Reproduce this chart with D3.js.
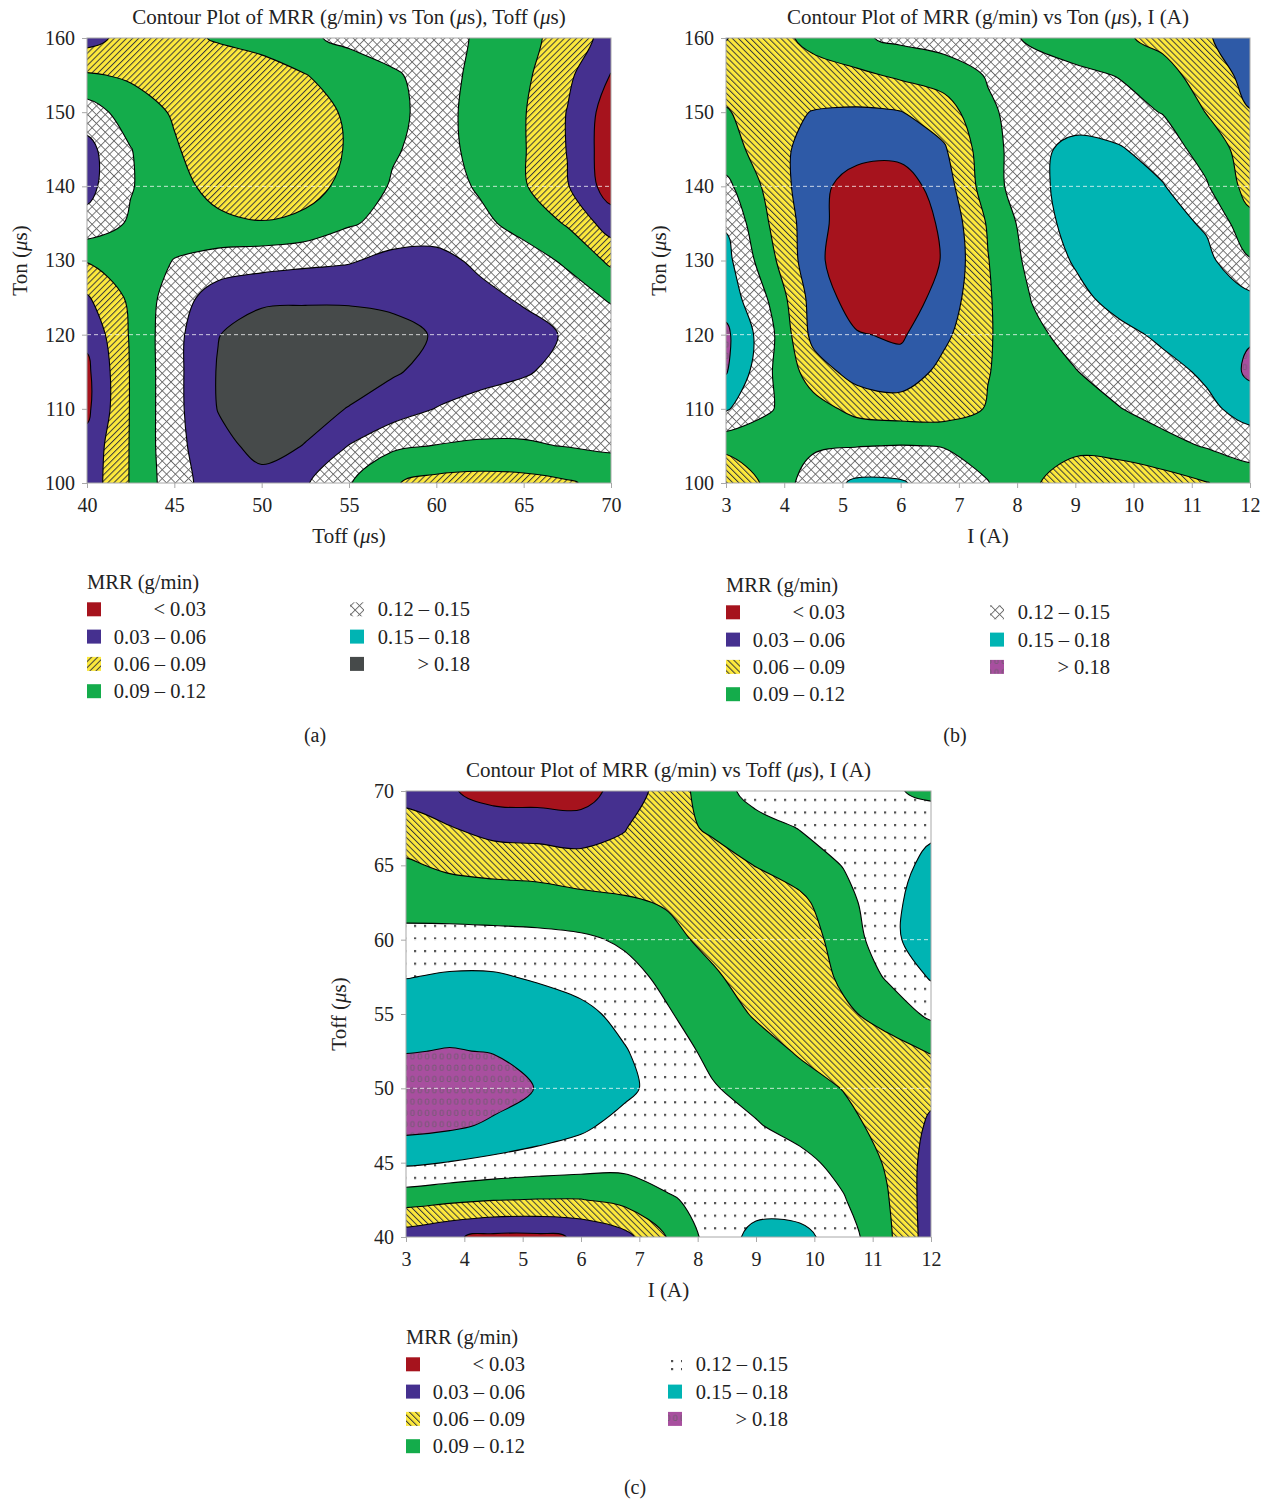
<!DOCTYPE html>
<html>
<head>
<meta charset="utf-8">
<script src="https://cdn.jsdelivr.net/npm/d3@7"></script>
<style>
  body { margin: 0; background: #fff; }
</style>
</head>
<body>
<div id="root"></div>
<script>
// contour levels (g/min) and legend texts
var thresholds = [0.03, 0.06, 0.09, 0.12, 0.15, 0.18];
var legendLabels = ["< 0.03", "0.03 \u2013 0.06", "0.06 \u2013 0.09", "0.09 \u2013 0.12",
                    "0.12 \u2013 0.15", "0.15 \u2013 0.18", "> 0.18"];

// axis ticks
var toffTicks = [40, 45, 50, 55, 60, 65, 70];
var tonTicks = [100, 110, 120, 130, 140, 150, 160];
var currentTicks = [3, 4, 5, 6, 7, 8, 9, 10, 11, 12];

var toffGrid = [40, 42.5, 45, 47.5, 50, 52.5, 55, 57.5, 60, 62.5, 65, 67.5, 70];
var tonGrid = [160, 155, 150, 145, 140, 135, 130, 125, 120, 115, 110, 105, 100];
var currentGrid = [3, 3.75, 4.5, 5.25, 6, 6.75, 7.5, 8.25, 9, 9.75, 10.5, 11.25, 12];
var toffGridDown = [70, 67.5, 65, 62.5, 60, 57.5, 55, 52.5, 50, 47.5, 45, 42.5, 40];

// (a) MRR, rows Ton 160 -> 100, columns Toff 40 -> 70
var mrrA = [
  [0.048,0.072,0.081,0.093,0.105,0.116,0.126,0.132,0.129,0.117,0.099,0.078,0.048],
  [0.093,0.086,0.075,0.071,0.072,0.089,0.105,0.117,0.129,0.114,0.096,0.066,0.029],
  [0.135,0.105,0.087,0.072,0.066,0.075,0.095,0.114,0.129,0.111,0.092,0.059,0.015],
  [0.159,0.121,0.093,0.072,0.063,0.072,0.093,0.117,0.131,0.111,0.092,0.059,0.012],
  [0.159,0.122,0.099,0.081,0.066,0.078,0.099,0.123,0.132,0.117,0.093,0.062,0.015],
  [0.141,0.116,0.105,0.096,0.092,0.098,0.117,0.129,0.134,0.126,0.111,0.087,0.045],
  [0.092,0.102,0.121,0.132,0.138,0.143,0.147,0.159,0.159,0.144,0.131,0.116,0.084],
  [0.057,0.096,0.135,0.165,0.174,0.176,0.176,0.171,0.165,0.158,0.146,0.132,0.117],
  [0.036,0.093,0.141,0.179,0.195,0.195,0.194,0.192,0.177,0.168,0.161,0.147,0.135],
  [0.024,0.092,0.141,0.182,0.198,0.198,0.192,0.183,0.171,0.162,0.153,0.141,0.135],
  [0.024,0.092,0.141,0.181,0.195,0.189,0.179,0.165,0.149,0.138,0.134,0.132,0.132],
  [0.039,0.092,0.141,0.171,0.189,0.179,0.149,0.125,0.119,0.116,0.117,0.121,0.125],
  [0.042,0.092,0.138,0.165,0.171,0.153,0.122,0.092,0.081,0.078,0.080,0.087,0.099]
];

// (b) MRR, rows Ton 160 -> 100, columns I 3 -> 12
var mrrB = [
  [0.059,0.078,0.099,0.116,0.126,0.132,0.129,0.117,0.108,0.095,0.081,0.063,0.042],
  [0.072,0.075,0.078,0.084,0.095,0.105,0.122,0.129,0.125,0.119,0.102,0.075,0.051],
  [0.093,0.069,0.059,0.056,0.059,0.075,0.116,0.132,0.135,0.129,0.119,0.089,0.061],
  [0.102,0.075,0.045,0.039,0.039,0.057,0.108,0.141,0.159,0.153,0.135,0.108,0.075],
  [0.128,0.081,0.039,0.018,0.015,0.045,0.107,0.141,0.162,0.162,0.152,0.123,0.078],
  [0.147,0.089,0.042,0.009,0.006,0.036,0.093,0.135,0.161,0.167,0.162,0.146,0.099],
  [0.159,0.099,0.039,0.006,0.003,0.033,0.089,0.129,0.153,0.168,0.168,0.158,0.122],
  [0.168,0.117,0.048,0.015,0.012,0.042,0.087,0.121,0.141,0.162,0.174,0.174,0.156],
  [0.186,0.129,0.051,0.032,0.026,0.054,0.087,0.114,0.129,0.141,0.156,0.168,0.177],
  [0.182,0.123,0.075,0.048,0.042,0.069,0.089,0.105,0.119,0.132,0.140,0.155,0.186],
  [0.153,0.122,0.102,0.081,0.075,0.075,0.092,0.105,0.113,0.119,0.131,0.143,0.162],
  [0.099,0.105,0.116,0.119,0.121,0.119,0.108,0.099,0.095,0.099,0.111,0.122,0.135],
  [0.059,0.099,0.135,0.155,0.153,0.135,0.121,0.093,0.078,0.075,0.078,0.089,0.102]
];

// (c) MRR, rows Toff 70 -> 40, columns I 3 -> 12
var mrrC = [
  [0.045,0.033,0.018,0.018,0.018,0.042,0.075,0.105,0.132,0.138,0.135,0.126,0.111],
  [0.078,0.062,0.048,0.045,0.042,0.059,0.078,0.095,0.108,0.121,0.132,0.138,0.144],
  [0.093,0.086,0.083,0.081,0.075,0.069,0.066,0.075,0.091,0.105,0.121,0.135,0.159],
  [0.105,0.104,0.102,0.101,0.098,0.095,0.087,0.072,0.069,0.083,0.111,0.138,0.171],
  [0.132,0.132,0.131,0.129,0.125,0.116,0.099,0.081,0.066,0.075,0.102,0.138,0.174],
  [0.149,0.153,0.153,0.147,0.138,0.129,0.113,0.095,0.075,0.069,0.096,0.123,0.153],
  [0.168,0.171,0.170,0.165,0.158,0.141,0.122,0.105,0.087,0.072,0.084,0.102,0.126],
  [0.179,0.181,0.179,0.171,0.164,0.152,0.131,0.114,0.102,0.087,0.072,0.078,0.092],
  [0.195,0.195,0.191,0.179,0.168,0.156,0.138,0.122,0.111,0.102,0.089,0.072,0.066],
  [0.189,0.185,0.176,0.165,0.155,0.141,0.132,0.128,0.122,0.110,0.099,0.080,0.056],
  [0.155,0.149,0.143,0.138,0.134,0.129,0.134,0.137,0.134,0.128,0.111,0.087,0.048],
  [0.102,0.096,0.091,0.089,0.089,0.099,0.117,0.129,0.138,0.135,0.122,0.092,0.045],
  [0.045,0.033,0.024,0.024,0.033,0.051,0.092,0.132,0.159,0.159,0.135,0.096,0.045]
];

// white dashed reference lines seen inside the plots
var gridLinesA = [120, 140];
var gridLinesB = [120, 140];
var gridLinesC = [50, 60];

window.onload = function () {
  var RED = "#a6131d", PURPLE = "#45308f", BLUE = "#2e5aa7", YELLOW = "#fde93c",
      GREEN = "#14ac4b", CYAN = "#00b4b3", DARK = "#464a4a", MAGENTA = "#a84f9f";
  var FONT = "'Liberation Serif', 'DejaVu Serif', serif";

  var svg = d3.select("#root")
    .append("svg")
    .attr("width", 1271)
    .attr("height", 1499)
    .style("font-family", FONT);

  var defs = svg.append("defs");

  // single hatch: rotate 45 = "/", -45 = "\"
  function hatch(id, angle) {
    var p = defs.append("pattern").attr("id", id)
      .attr("patternUnits", "userSpaceOnUse")
      .attr("width", 4.3).attr("height", 4.3)
      .attr("patternTransform", "rotate(" + angle + ")");
    p.append("rect").attr("width", 4.3).attr("height", 4.3).attr("fill", YELLOW);
    p.append("line").attr("x1", 0.5).attr("y1", 0).attr("x2", 0.5).attr("y2", 4.3)
      .attr("stroke", "#3a3a3a").attr("stroke-width", 1);
  }
  hatch("hatchFwd", 45);
  hatch("hatchBack", -45);

  var cross = defs.append("pattern").attr("id", "cross")
    .attr("patternUnits", "userSpaceOnUse")
    .attr("width", 6.2).attr("height", 6.2)
    .attr("patternTransform", "rotate(45)");
  cross.append("rect").attr("width", 6.2).attr("height", 6.2).attr("fill", "#fff");
  cross.append("path").attr("d", "M0,0.5H6.2M0.5,0V6.2")
    .attr("stroke", "#6a6a6a").attr("stroke-width", 0.9);

  function dotPattern(id, w, h, ox, oy) {
    var p = defs.append("pattern").attr("id", id)
      .attr("patternUnits", "userSpaceOnUse")
      .attr("x", ox).attr("y", oy)
      .attr("width", w).attr("height", h);
    p.append("rect").attr("width", w).attr("height", h).attr("fill", "#fff");
    p.append("rect").attr("x", 1).attr("y", 1).attr("width", 2.2).attr("height", 2.2).attr("fill", "#505050");
  }
  dotPattern("dots", 10, 12.6, 3, 4);
  // legend swatch of panel (c) shows a 2 x 2 block of dots
  dotPattern("dotsLegend", 10, 8, 670, 1359);

  var mag = defs.append("pattern").attr("id", "magenta")
    .attr("patternUnits", "userSpaceOnUse")
    .attr("width", 7.3).attr("height", 11.3);
  mag.append("rect").attr("width", 7.3).attr("height", 11.3).attr("fill", MAGENTA);
  mag.append("rect").attr("x", 2).attr("y", 3).attr("width", 3.4).attr("height", 5).attr("rx", 1)
    .attr("fill", "none").attr("stroke", "#6e5a6e").attr("stroke-width", 0.9);

  var line = d3.line().curve(d3.curveCatmullRomClosed.alpha(0.5));

  function italicMu(sel, str) {
    str.split("\u03bc").forEach(function (part, i) {
      if (i > 0) sel.append("tspan").style("font-style", "italic").text("\u03bc");
      sel.append("tspan").text(part);
    });
  }

  function drawPanel(cfg) {
    var g = svg.append("g");
    var nx = cfg.xGrid.length, ny = cfg.yGrid.length;

    var x = d3.scaleLinear().domain(cfg.xDomain).range([cfg.left, cfg.right]);
    var y = d3.scaleLinear().domain(cfg.yDomain).range([cfg.bottom, cfg.top]);
    // grid index -> data value
    var xi = d3.scaleLinear().domain([0, nx - 1]).range([cfg.xGrid[0], cfg.xGrid[nx - 1]]);
    var yi = d3.scaleLinear().domain([0, ny - 1]).range([cfg.yGrid[0], cfg.yGrid[ny - 1]]);

    // pad the grid by one repeated cell each side so the contours run past the frame
    var px = nx + 2, py = ny + 2, vals = new Array(px * py);
    for (var j = 0; j < py; j++) {
      for (var i = 0; i < px; i++) {
        var jj = Math.max(0, Math.min(ny - 1, j - 1));
        var ii = Math.max(0, Math.min(nx - 1, i - 1));
        vals[j * px + i] = cfg.grid[jj][ii];
      }
    }
    var contours = d3.contours().size([px, py]).thresholds(thresholds)(vals);

    var clipId = "clip" + cfg.name;
    defs.append("clipPath").attr("id", clipId)
      .append("rect")
      .attr("x", cfg.left).attr("y", cfg.top)
      .attr("width", cfg.right - cfg.left).attr("height", cfg.bottom - cfg.top);

    var plot = g.append("g").attr("clip-path", "url(#" + clipId + ")");
    plot.append("rect")
      .attr("x", cfg.left).attr("y", cfg.top)
      .attr("width", cfg.right - cfg.left).attr("height", cfg.bottom - cfg.top)
      .attr("fill", cfg.fills[0]);

    plot.selectAll("path.level")
      .data(contours)
      .enter()
      .append("path")
      .attr("class", "level")
      .attr("fill", function (d, k) { return cfg.fills[k + 1]; })
      .attr("fill-rule", "evenodd")
      .attr("stroke", "#000")
      .attr("stroke-width", 1.1)
      .attr("stroke-linejoin", "round")
      .attr("d", function (d) {
        var s = "";
        d.coordinates.forEach(function (poly) {
          poly.forEach(function (ring) {
            var pts = ring.slice(0, -1).map(function (p) {
              return [x(xi(p[0] - 1.5)), y(yi(p[1] - 1.5))];
            });
            if (pts.length > 2) s += line(pts);
          });
        });
        return s;
      });

    plot.selectAll("line.dash")
      .data(cfg.dashed)
      .enter()
      .append("line")
      .attr("x1", cfg.left).attr("x2", cfg.right)
      .attr("y1", function (d) { return y(d); })
      .attr("y2", function (d) { return y(d); })
      .attr("stroke", "#fff").attr("stroke-width", 1)
      .attr("stroke-dasharray", "4,3").attr("opacity", 0.75);

    // frame
    g.append("rect")
      .attr("x", cfg.left).attr("y", cfg.top)
      .attr("width", cfg.right - cfg.left).attr("height", cfg.bottom - cfg.top)
      .attr("fill", "none").attr("stroke", "#a8a8a8").attr("stroke-width", 1);

    var xAxis = g.append("g")
      .attr("transform", "translate(0," + cfg.bottom + ")")
      .call(d3.axisBottom(x).tickValues(cfg.xTicks).tickSize(5).tickPadding(10));
    var yAxis = g.append("g")
      .attr("transform", "translate(" + cfg.left + ",0)")
      .call(d3.axisLeft(y).tickValues(cfg.yTicks).tickSize(5).tickPadding(7));
    [xAxis, yAxis].forEach(function (a) {
      a.select(".domain").remove();
      a.selectAll(".tick line").attr("stroke", "#a8a8a8");
      a.selectAll(".tick text").attr("fill", "#222").style("font-family", FONT).style("font-size", "20px");
    });

    var cx = (cfg.left + cfg.right) / 2;
    var title = g.append("text")
      .attr("x", cx).attr("y", cfg.top - 21)
      .attr("dy", "0.35em")
      .attr("text-anchor", "middle")
      .attr("fill", "#222")
      .style("font-size", "21px");
    italicMu(title, cfg.title);

    var xl = g.append("text")
      .attr("x", cx).attr("y", cfg.bottom + 53)
      .attr("dy", "0.35em")
      .attr("text-anchor", "middle")
      .attr("fill", "#222")
      .style("font-size", "21px");
    italicMu(xl, cfg.xLabel);

    var yl = g.append("text")
      .attr("transform", "translate(" + (cfg.left - 67) + "," + ((cfg.top + cfg.bottom) / 2) + ") rotate(-90)")
      .attr("dy", "0.35em")
      .attr("text-anchor", "middle")
      .attr("fill", "#222")
      .style("font-size", "21px");
    italicMu(yl, cfg.yLabel);

    // legend
    var lg = g.append("g").style("font-size", "20.5px").attr("fill", "#222");
    lg.append("text").attr("x", cfg.legX).attr("y", cfg.legY).attr("dy", "0.35em").text("MRR (g/min)");
    legendLabels.forEach(function (lab, k) {
      var col = k < 4 ? 0 : 1, row = k < 4 ? k : k - 4;
      var cy = cfg.legY + 27.3 * (row + 1);
      lg.append("rect")
        .attr("x", cfg.legX + col * cfg.legCol).attr("y", cy - 7)
        .attr("width", 14).attr("height", 14)
        .attr("fill", cfg.legendFills[k]);
      lg.append("text")
        .attr("x", cfg.legX + 119 + col * (cfg.legCol + 1))
        .attr("y", cy).attr("dy", "0.35em")
        .attr("text-anchor", "end")
        .text(lab);
    });

    g.append("text")
      .attr("x", cfg.tagX).attr("y", cfg.tagY)
      .attr("dy", "0.35em")
      .attr("text-anchor", "middle")
      .attr("fill", "#222")
      .style("font-size", "20px")
      .text(cfg.tag);
  }

  drawPanel({
    name: "a", tag: "(a)", tagX: 315, tagY: 735,
    title: "Contour Plot of MRR (g/min) vs Ton (\u03bcs), Toff (\u03bcs)",
    xLabel: "Toff (\u03bcs)", yLabel: "Ton (\u03bcs)",
    left: 87, right: 611, top: 38, bottom: 483,
    xDomain: [40, 70], yDomain: [100, 160],
    xTicks: toffTicks, yTicks: tonTicks,
    xGrid: toffGrid, yGrid: tonGrid, grid: mrrA, dashed: gridLinesA,
    fills: [RED, PURPLE, "url(#hatchFwd)", GREEN, "url(#cross)", PURPLE, DARK],
    legendFills: [RED, PURPLE, "url(#hatchFwd)", GREEN, "url(#cross)", CYAN, DARK],
    legX: 87, legY: 582, legCol: 263
  });

  drawPanel({
    name: "b", tag: "(b)", tagX: 955, tagY: 735,
    title: "Contour Plot of MRR (g/min) vs Ton (\u03bcs), I (A)",
    xLabel: "I (A)", yLabel: "Ton (\u03bcs)",
    left: 726, right: 1250, top: 38, bottom: 483,
    xDomain: [3, 12], yDomain: [100, 160],
    xTicks: currentTicks, yTicks: tonTicks,
    xGrid: currentGrid, yGrid: tonGrid, grid: mrrB, dashed: gridLinesB,
    fills: [RED, BLUE, "url(#hatchBack)", GREEN, "url(#cross)", CYAN, "url(#magenta)"],
    legendFills: [RED, PURPLE, "url(#hatchBack)", GREEN, "url(#cross)", CYAN, "url(#magenta)"],
    legX: 726, legY: 585, legCol: 264
  });

  drawPanel({
    name: "c", tag: "(c)", tagX: 635, tagY: 1487,
    title: "Contour Plot of MRR (g/min) vs Toff (\u03bcs), I (A)",
    xLabel: "I (A)", yLabel: "Toff (\u03bcs)",
    left: 406, right: 931, top: 791, bottom: 1237,
    xDomain: [3, 12], yDomain: [40, 70],
    xTicks: currentTicks, yTicks: toffTicks,
    xGrid: currentGrid, yGrid: toffGridDown, grid: mrrC, dashed: gridLinesC,
    fills: [RED, PURPLE, "url(#hatchBack)", GREEN, "url(#dots)", CYAN, "url(#magenta)"],
    legendFills: [RED, PURPLE, "url(#hatchBack)", GREEN, "url(#dotsLegend)", CYAN, "url(#magenta)"],
    legX: 406, legY: 1337, legCol: 262
  });
};
</script>
</body>
</html>
